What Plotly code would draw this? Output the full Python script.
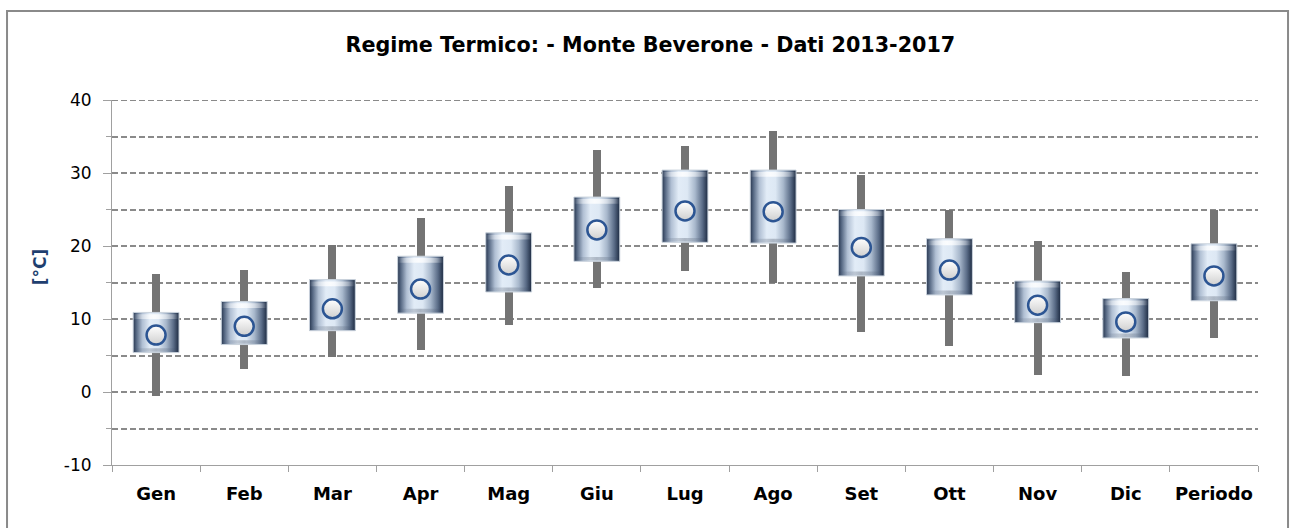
import plotly.graph_objects as go

cats = ["Gen", "Feb", "Mar", "Apr", "Mag", "Giu", "Lug", "Ago", "Set", "Ott", "Nov", "Dic", "Periodo"]
t_min = [-0.5, 3.2, 4.8, 5.8, 9.2, 14.2, 16.6, 14.9, 8.2, 6.3, 2.3, 2.2, 7.4]
q_low = [5.4, 6.5, 8.4, 10.8, 13.7, 17.9, 20.5, 20.4, 15.9, 13.3, 9.5, 7.4, 12.5]
t_mean = [7.8, 9.0, 11.4, 14.1, 17.4, 22.2, 24.8, 24.7, 19.8, 16.7, 11.9, 9.6, 15.9]
q_high = [10.9, 12.4, 15.4, 18.6, 21.8, 26.7, 30.4, 30.4, 25.0, 21.0, 15.2, 12.8, 20.3]
t_max = [16.1, 16.7, 20.1, 23.8, 28.2, 33.2, 33.7, 35.8, 29.7, 24.9, 20.7, 16.5, 24.9]
y_ticks = [-10, 0, 10, 20, 30, 40]
y_ticktext = ["-10", "0", "10", "20", "30", "40"]

title = "Regime Termico: - Monte Beverone - Dati 2013-2017"
FONT = "DejaVu Sans"

fig = go.Figure()

# whiskers (min-max)
fig.add_trace(go.Bar(
    x=cats, y=[hi - lo for lo, hi in zip(t_min, t_max)], base=t_min,
    width=0.09, marker=dict(color="#747474", line=dict(width=0)),
    hoverinfo="skip", showlegend=False, xaxis="x", yaxis="y",
))

half = 0.26
box_scale = [
    [0.0, "#27364f"], [0.07, "#566883"], [0.2, "#b0bfd3"], [0.36, "#e2ecf7"],
    [0.55, "#dde8f4"], [0.72, "#a8b8cc"], [0.88, "#5a6c87"], [1.0, "#1c2a41"],
]
hl_scale = [
    [0.0, "rgba(255,255,255,0)"], [0.15, "rgba(255,255,255,0.35)"],
    [0.45, "rgba(255,255,255,0.85)"], [0.85, "rgba(255,255,255,0.35)"],
    [1.0, "rgba(255,255,255,0)"],
]
sh_scale = [
    [0.0, "rgba(20,30,50,0.0)"], [0.5, "rgba(20,30,50,0.25)"], [1.0, "rgba(20,30,50,0.0)"],
]
for i in range(len(cats)):
    xs = [i - half, i + half, i + half, i - half, i - half]
    ys = [q_low[i], q_low[i], q_high[i], q_high[i], q_low[i]]
    fig.add_trace(go.Scatter(
        x=xs, y=ys, mode="lines", fill="toself",
        fillgradient=dict(type="horizontal", colorscale=box_scale),
        line=dict(color="#c9d2dc", width=1),
        hoverinfo="skip", showlegend=False, xaxis="x2", yaxis="y",
    ))
    top0, top1 = q_high[i] - 0.9, q_high[i] - 0.25
    fig.add_trace(go.Scatter(
        x=xs, y=[top0, top0, top1, top1, top0], mode="lines", fill="toself",
        fillgradient=dict(type="horizontal", colorscale=hl_scale),
        line=dict(width=0), hoverinfo="skip", showlegend=False, xaxis="x2", yaxis="y",
    ))
    b0, b1 = q_low[i] + 0.1, q_low[i] + 0.6
    fig.add_trace(go.Scatter(
        x=xs, y=[b0, b0, b1, b1, b0], mode="lines", fill="toself",
        fillgradient=dict(type="horizontal", colorscale=sh_scale),
        line=dict(width=0), hoverinfo="skip", showlegend=False, xaxis="x2", yaxis="y",
    ))

fig.add_trace(go.Scatter(
    x=list(range(len(cats))), y=t_mean, mode="markers",
    marker=dict(size=19, color="#ffffff", line=dict(color="#2c5593", width=2.5),
                gradient=dict(type="vertical", color="#cfcfcf")),
    hoverinfo="skip", showlegend=False, xaxis="x2", yaxis="y",
))

grid_style = dict(color="#8a8a8a", width=2, dash="6px,3px")

fig.update_layout(
    width=1293, height=528,
    margin=dict(l=112, r=35, t=100, b=63),
    paper_bgcolor="white", plot_bgcolor="white",
    font=dict(family=FONT, color="#000000"),
    bargap=0,
    title=dict(text="<b>" + title + "</b>", x=0.503, xanchor="center", y=0.915, yanchor="middle",
               font=dict(size=20.7, family=FONT, color="#000000")),
    xaxis=dict(
        type="category", categoryorder="array", categoryarray=cats,
        range=[-0.5, 12.5], tickson="boundaries", ticks="outside", ticklen=6,
        tickcolor="#a0a0a0", showline=True, linecolor="#a0a0a0", linewidth=1,
        showgrid=False, tickfont=dict(size=18, family=FONT, color="#000000"),
        tickprefix="<b>", ticksuffix="</b>", ticklabelstandoff=12, fixedrange=True,
    ),
    xaxis2=dict(overlaying="x", range=[-0.5, 12.5], visible=False, fixedrange=True),
    yaxis=dict(
        range=[-10, 40], tickmode="array", tickvals=y_ticks, ticktext=y_ticktext,
        ticks="outside", ticklen=8,
        tickcolor="#a0a0a0", showline=True, linecolor="#a0a0a0", linewidth=1,
        showgrid=True, gridcolor=grid_style["color"], gridwidth=2, griddash=grid_style["dash"],
        zeroline=False, tickfont=dict(size=17, family=FONT, color="#000000"),
        ticklabelstandoff=8,
        minor=dict(dtick=5, tick0=0, showgrid=True, gridcolor=grid_style["color"], gridwidth=2,
                   griddash=grid_style["dash"], ticks="outside", ticklen=5, tickcolor="#a0a0a0"),
        fixedrange=True,
    ),
    annotations=[dict(
        text="<b>[°C]</b>", x=-0.0628, y=0.542, xref="paper", yref="paper",
        xanchor="center", yanchor="middle",
        textangle=-90, showarrow=False, font=dict(size=17, family=FONT, color="#1f3f6f"),
    )],
    shapes=[
        dict(type="line", xref="paper", yref="y", x0=0, x1=1, y0=max(y_ticks), y1=max(y_ticks),
             line=grid_style, layer="below"),
        dict(type="rect", xref="paper", yref="paper",
             x0=-0.0916, x1=1.0262, y0=-0.3, y1=1.2438,
             line=dict(color="#8a8a8a", width=2), fillcolor="rgba(0,0,0,0)", layer="above"),
    ],
)

fig.write_html("out.html", config={"displayModeBar": False},
               post_script="document.body.style.margin='0';")
